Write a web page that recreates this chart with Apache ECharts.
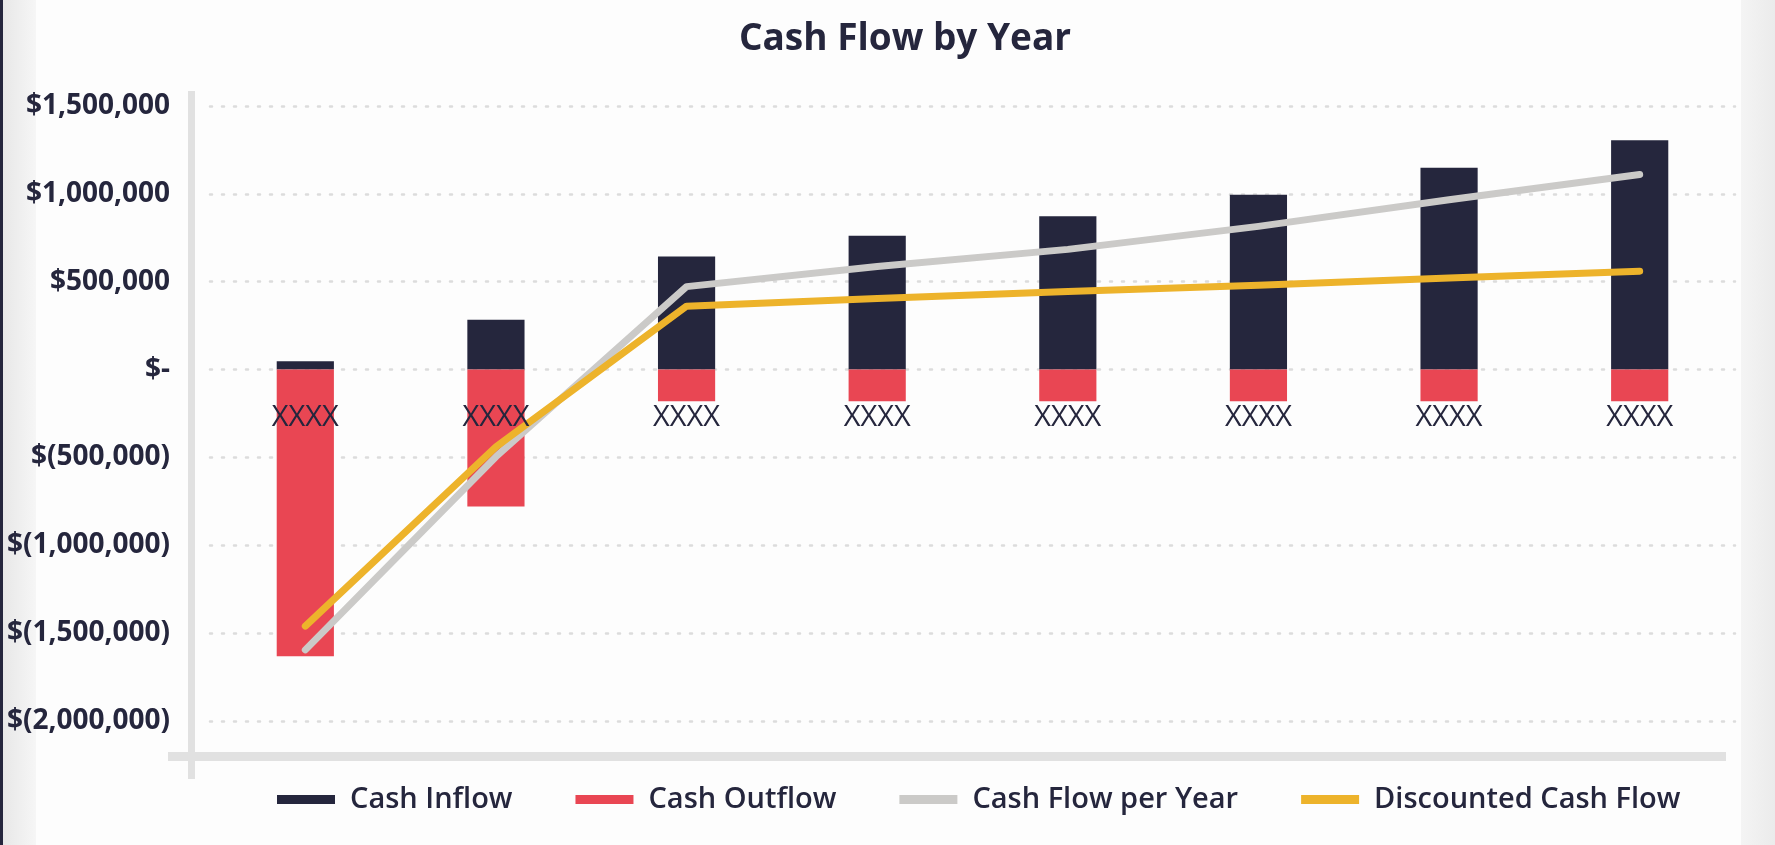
<!DOCTYPE html>
<html>

<head>
    <meta charset="utf-8">
    <title>Cash Flow by Year</title>
    <script src="https://cdn.jsdelivr.net/npm/echarts@6/dist/echarts.min.js"></script>
    <style>
        html, body {
            margin: 0;
            padding: 0;
            background: #fdfdfd;
        }

        .chart {
            width: 1775px;
            height: 845px;
        }
    </style>
</head>

<body>

    <div id="main" class="chart"></div>

    <script type="text/javascript">

        // values
        var years = ['XXXX', 'XXXX', 'XXXX', 'XXXX', 'XXXX', 'XXXX', 'XXXX', 'XXXX'];
        var cashInflow = [48000, 283000, 643000, 762000, 872000, 995000, 1148000, 1305000];
        var cashOutflow = [-1632000, -779000, -180000, -180000, -180000, -180000, -180000, -180000];
        var cashFlowPerYear = [-1595000, -496000, 472000, 586000, 684000, 815000, 966000, 1110000];
        var discountedCashFlow = [-1460000, -440000, 361000, 404000, 444000, 480000, 521000, 560000];

        var yTicks = [-2000000, -1500000, -1000000, -500000, 0, 500000, 1000000, 1500000];
        var yTickLabels = ['$(2,000,000)', '$(1,500,000)', '$(1,000,000)', '$(500,000)',
            '$-', '$500,000', '$1,000,000', '$1,500,000'];

        var ink = '#25263d';
        var font = 'Open Sans';

        var myChart = echarts.init(document.getElementById('main'));

        var option = {
            backgroundColor: '#fdfdfd',
            animation: false,
            textStyle: { fontFamily: font },
            title: {
                text: 'Cash Flow by Year',
                left: 900,
                top: 16,
                textAlign: 'center',
                textStyle: {
                    fontFamily: font,
                    fontSize: 37,
                    fontWeight: 'bold',
                    color: ink
                }
            },
            legend: {
                data: ['Cash Inflow', 'Cash Outflow', 'Cash Flow per Year', 'Discounted Cash Flow'],
                left: 277,
                top: 785,
                padding: 0,
                icon: 'rect',
                itemWidth: 58,
                itemHeight: 9,
                itemGap: 63,
                textStyle: {
                    fontFamily: font,
                    fontSize: 29,
                    fontWeight: 600,
                    color: ink,
                    padding: [0, 0, 0, 10]
                }
            },
            graphic: [
                // page edges and the grey frame lines
                {
                    type: 'rect', left: 0, top: 0, shape: { width: 36, height: 845 }, silent: true,
                    style: {
                        fill: new echarts.graphic.LinearGradient(0, 0, 1, 0, [
                            { offset: 0, color: '#e6e6e6' }, { offset: 1, color: '#f6f6f6' }])
                    }
                },
                { type: 'rect', left: 0, top: 0, shape: { width: 3, height: 845 }, style: { fill: ink }, silent: true },
                {
                    type: 'rect', left: 1741, top: 0, shape: { width: 34, height: 845 }, silent: true,
                    style: {
                        fill: new echarts.graphic.LinearGradient(0, 0, 1, 0, [
                            { offset: 0, color: '#f4f4f4' }, { offset: 1, color: '#ebebeb' }])
                    }
                },
                { type: 'rect', left: 188, top: 91, shape: { width: 7, height: 688 }, style: { fill: '#e1e1e1' }, silent: true },
                { type: 'rect', left: 168, top: 752, shape: { width: 1558, height: 9 }, style: { fill: '#e1e1e1' }, silent: true }
            ],
            grid: {
                left: 210,
                right: 40,
                top: 106,
                bottom: 124,
                containLabel: false
            },
            xAxis: {
                type: 'category',
                data: years,
                z: 10,
                axisLine: { show: false },
                axisTick: { show: false },
                axisLabel: {
                    margin: 34,
                    fontFamily: font,
                    fontSize: 29,
                    color: ink
                }
            },
            yAxis: {
                type: 'value',
                min: -2000000,
                max: 1500000,
                interval: 500000,
                axisLine: { show: false },
                axisTick: { show: false },
                axisLabel: {
                    margin: 40,
                    fontFamily: font,
                    fontSize: 28,
                    fontWeight: 'bold',
                    color: ink,
                    formatter: function (v) {
                        var i = yTicks.indexOf(v);
                        return i >= 0 ? yTickLabels[i] : '';
                    }
                },
                splitLine: {
                    lineStyle: {
                        color: '#dcdcdc',
                        width: 2.5,
                        type: [2, 10],
                        cap: 'round'
                    }
                }
            },
            series: [{
                name: 'Cash Inflow',
                type: 'bar',
                stack: 'flow',
                barWidth: '30%',
                color: ink,
                itemStyle: { color: ink },
                data: cashInflow
            }, {
                name: 'Cash Outflow',
                type: 'bar',
                stack: 'flow',
                barWidth: '30%',
                color: '#e94653',
                itemStyle: { color: '#e94653' },
                data: cashOutflow
            }, {
                name: 'Cash Flow per Year',
                type: 'line',
                color: '#cbcac8',
                showSymbol: false,
                symbol: 'none',
                lineStyle: { color: '#cbcac8', width: 7, cap: 'round', join: 'round' },
                data: cashFlowPerYear
            }, {
                name: 'Discounted Cash Flow',
                type: 'line',
                color: '#edb32b',
                showSymbol: false,
                symbol: 'none',
                lineStyle: { color: '#edb32b', width: 7, cap: 'round', join: 'round' },
                data: discountedCashFlow
            }]
        };

        myChart.setOption(option);

        // the category labels sit just under the zero line, so lift the x axis up to it
        var zeroY = myChart.convertToPixel({ yAxisIndex: 0 }, 0);
        var bottomY = myChart.convertToPixel({ yAxisIndex: 0 }, yTicks[0]);
        myChart.setOption({ xAxis: { offset: zeroY - bottomY } });

    </script>
</body>

</html>
